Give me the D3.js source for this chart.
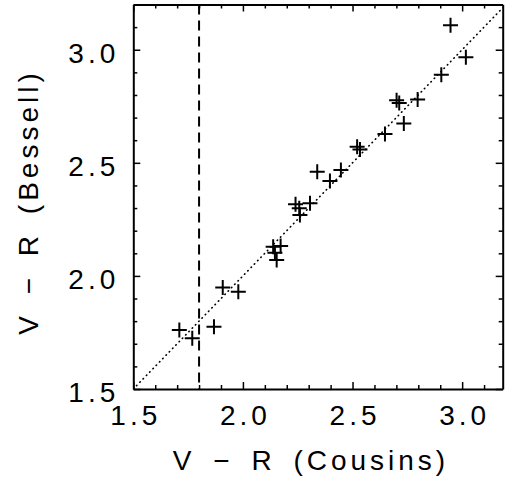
<!DOCTYPE html>
<html lang="en">
<head>
    <meta charset="UTF-8">
    <script src="https://d3js.org/d3.v7.min.js"></script>
    <style>
        body { margin: 0; background: #fff; }
        text {
            font-family: "Liberation Sans", Arial, sans-serif;
            font-size: 28px;
            letter-spacing: 4px;
            fill: #000;
        }
        .title { word-spacing: 6px; }
        .axis path { stroke: #000; stroke-width: 2px; }
        .axis line { stroke: #000; stroke-width: 1.5px; }
    </style>
</head>
<body>
    <svg width="505" height="490" id="plot"></svg>

    <script>
    // V-R colours: Cousins (x) vs Bessell (y)
    const cousins = [2.947, 3.017, 2.905, 2.701, 2.713, 2.797, 2.734, 2.648, 2.521, 2.534,
                     2.339, 2.447, 2.397, 2.240, 2.257, 2.306, 2.260, 2.138, 2.172, 2.146,
                     2.154, 1.908, 1.979, 1.868, 1.710, 1.769];
    const bessell = [3.108, 2.967, 2.889, 2.777, 2.764, 2.780, 2.674, 2.627, 2.571, 2.559,
                     2.460, 2.468, 2.420, 2.317, 2.299, 2.321, 2.269, 2.129, 2.132, 2.102,
                     2.070, 1.949, 1.930, 1.775, 1.761, 1.724];
    const majorTicks = [1.5, 2.0, 2.5, 3.0];
    const minorTicks = [1.6, 1.7, 1.8, 1.9, 2.1, 2.2, 2.3, 2.4, 2.6, 2.7, 2.8, 2.9, 3.1];
    const diagonal = [1.5, 3.2];
    const cutoff = 1.8;

    const svg = d3.select("#plot");
    const margin = { top: 4.5, right: 2.3, bottom: 101, left: 133.3 };
    const width = +svg.attr("width") - margin.left - margin.right;
    const height = +svg.attr("height") - margin.top - margin.bottom;

    const x = d3.scaleLinear().domain([1.5, 3.185]).range([0, width]);
    const y = d3.scaleLinear().domain([1.5, 3.2]).range([height, 0]);

    const g = svg.append("g")
        .attr("transform", "translate(" + margin.left + "," + margin.top + ")");

    g.append("clipPath").attr("id", "clip")
        .append("rect").attr("width", width).attr("height", height);

    // 1:1 dotted line
    g.append("line")
        .attr("clip-path", "url(#clip)")
        .attr("x1", x(diagonal[0])).attr("y1", y(diagonal[0]))
        .attr("x2", x(diagonal[1])).attr("y2", y(diagonal[1]))
        .attr("stroke", "#000")
        .attr("stroke-width", 1.6)
        .attr("stroke-linecap", "round")
        .attr("stroke-dasharray", "0.5,4.2");

    // dashed cutoff
    g.append("line")
        .attr("x1", x(cutoff)).attr("x2", x(cutoff))
        .attr("y1", 0).attr("y2", height)
        .attr("stroke", "#000")
        .attr("stroke-width", 2)
        .attr("stroke-dasharray", "10,6");

    // axes: ticks point inward, labels on bottom and left only
    function addAxis(axis, tr, labels) {
        const a = g.append("g").attr("class", "axis").attr("transform", tr);
        a.call(axis.tickValues(majorTicks).tickSizeInner(-7).tickSizeOuter(0)
            .tickPadding(16).tickFormat(labels ? d3.format(".1f") : ""));
        a.selectAll(".tick text").style("font-size", "28px").style("font-family", "Liberation Sans");
        return a;
    }
    function addMinor(axis, tr) {
        g.append("g").attr("class", "axis").attr("transform", tr)
            .call(axis.tickValues(minorTicks).tickSizeInner(-4).tickSizeOuter(0).tickFormat(""))
            .select(".domain").remove();
    }

    const bottom = addAxis(d3.axisBottom(x), "translate(0," + height + ")", true);
    bottom.selectAll(".tick text").attr("dy", "0.71em").attr("dx", "2px");
    addAxis(d3.axisTop(x), "translate(0,0)", false);
    const left = addAxis(d3.axisLeft(y), "translate(0,0)", true);
    left.selectAll(".tick text").attr("dy", "0.45em").attr("dx", "2px");
    addAxis(d3.axisRight(y), "translate(" + width + ",0)", false);

    addMinor(d3.axisBottom(x), "translate(0," + height + ")");
    addMinor(d3.axisTop(x), "translate(0,0)");
    addMinor(d3.axisLeft(y), "translate(0,0)");
    addMinor(d3.axisRight(y), "translate(" + width + ",0)");

    // plus markers
    const arm = 7.5;
    g.selectAll(".pt")
        .data(cousins.map((c, i) => [c, bessell[i]]))
        .enter().append("path")
        .attr("class", "pt")
        .attr("d", d => {
            const cx = x(d[0]), cy = y(d[1]);
            return "M" + (cx - arm) + "," + cy + "H" + (cx + arm) +
                   "M" + cx + "," + (cy - arm) + "V" + (cy + arm);
        })
        .attr("stroke", "#000")
        .attr("stroke-width", 2)
        .attr("fill", "none");

    // axis titles
    svg.append("text")
        .attr("class", "title")
        .attr("x", 311)
        .attr("y", 470)
        .attr("text-anchor", "middle")
        .text("V \u2212 R (Cousins)");

    svg.append("text")
        .attr("class", "title")
        .attr("transform", "translate(38,202) rotate(-90)")
        .attr("text-anchor", "middle")
        .text("V \u2212 R (Bessell)");
    </script>
</body>
</html>
